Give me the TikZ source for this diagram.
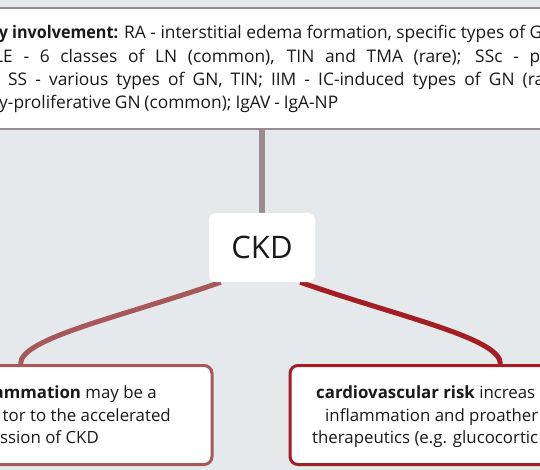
\documentclass[tikz,border=0pt]{standalone}
\usepackage{fontspec}
\setmainfont{Open Sans}
\usetikzlibrary{calc}
\pgfdeclarelayer{bglayer}
\pgfdeclarelayer{connlayer}
\pgfsetlayers{bglayer,connlayer,main}
\definecolor{bgc}{RGB}{229,233,236}
\definecolor{grayline}{RGB}{152,140,143}
\definecolor{lred}{RGB}{166,88,90}
\definecolor{dred}{RGB}{163,30,34}
\definecolor{txt}{RGB}{25,25,25}
\newlength\mytmpw
\begin{document}
\settowidth\mytmpw{\fontsize{10}{12}\selectfont RA - interstitial edema formation, specific types of}
\pgfmathsetmacro\topfs{10*401/\mytmpw}
\settowidth\mytmpw{\fontsize{10}{12}\selectfont inflammation and proather}
\pgfmathsetmacro\boxfs{10*213/\mytmpw}
\tikzset{
  topbox/.style={draw=grayline, line width=2.5pt, fill=white, minimum width=620pt, minimum height=121pt, inner sep=0pt},
  ckdbox/.style={fill=white, rounded corners=7pt, minimum width=106pt, minimum height=69pt, inner sep=0pt, font=\fontsize{31}{36}\selectfont, text=txt},
  lboxst/.style={draw=lred, line width=3pt, fill=white, rounded corners=8pt, minimum width=260pt, minimum height=99pt, inner sep=0pt},
  rboxst/.style={draw=dred, line width=3pt, fill=white, rounded corners=8pt, minimum width=290pt, minimum height=99pt, inner sep=0pt},
  toptxt/.style={anchor=base west, inner sep=0pt, font=\fontsize{\topfs}{\topfs}\selectfont, text=txt},
  boxtxtw/.style={anchor=base west, inner sep=0pt, font=\fontsize{\boxfs}{\boxfs}\selectfont, text=txt},
  boxtxte/.style={anchor=base east, inner sep=0pt, font=\fontsize{\boxfs}{\boxfs}\selectfont, text=txt},
  conn/.style={line width=5pt},
}
\begin{tikzpicture}[x=1pt,y=-1pt]
\useasboundingbox (0,0) rectangle (540,470);
\begin{scope}
\clip (0,0) rectangle (540,470);
\begin{pgfonlayer}{bglayer}
\fill[bgc] (0,0) rectangle (540,470);
\end{pgfonlayer}
% top box
\node[topbox] (top) at (270,68.5) {};
\node[toptxt] (t1) at (124,39) {\llap{\textbf{\addfontfeature{FakeStretch=0.93}y involvement:} }RA - interstitial edema formation, specific types of G};
\node[toptxt] (t2) at (-6,62.5) {\makebox[546pt][s]{LE - 6 classes of LN (common), TIN and TMA (rare); SSc - p}};
\node[toptxt] (t3) at (8,86) {\makebox[536pt][s]{SS - various types of GN, TIN; IIM - IC-induced types of GN (ra}};
\node[toptxt] (t4) at (-1,109) {\makebox[339pt][s]{y-proliferative GN (common); IgAV - IgA-NP}};
% CKD
\node[ckdbox] (ckd) at (262,247.5) {CKD};
% boxes
\node[lboxst] (lb) at (82,415) {};
\node[rboxst] (rb) at (435,415) {};
% connectors
\begin{pgfonlayer}{connlayer}
\draw[conn, grayline, line width=6pt] (top.south -| ckd.north) -- (ckd.north);
\draw[conn, lred] ([xshift=12pt]ckd.south west) .. controls +(-100,35) and +(0,-26) .. ([xshift=70pt]lb.north west);
\draw[conn, dred] ([xshift=-15pt]ckd.south east) .. controls +(100,35) and +(0,-26) .. ([xshift=212pt]rb.north west);
\end{pgfonlayer}
% texts
\node[boxtxte] (l1) at (157,398) {\textbf{ammation} may be a};
\node[boxtxte] (l2) at (171,421.5) {tor to the accelerated};
\node[boxtxte] (l3) at (99,443) {ssion of CKD};
\node[boxtxtw] (r1) at (316,398) {\textbf{cardiovascular risk} increas};
\node[boxtxtw] (r2) at (325,421.5) {inflammation and proather};
\node[boxtxtw] (r3) at (312,443) {therapeutics (e.g. glucocortic};
\end{scope}
\end{tikzpicture}
\end{document}
